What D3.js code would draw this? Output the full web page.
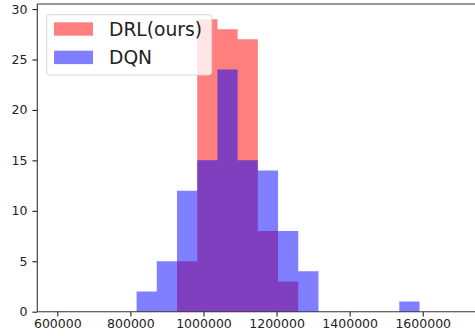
<!DOCTYPE html>
<html>
<head>
<meta charset="utf-8">
<script src="https://cdn.jsdelivr.net/npm/d3@7"></script>
<style>
  html, body { margin: 0; padding: 0; background: #fff; }
  svg { display: block; }
  text { font-family: "DejaVu Sans", sans-serif; fill: #222; }
</style>
</head>
<body>
<svg id="chart" width="475" height="336"></svg>
<script>
// ---- data ----
const binEdges = [817000, 872300, 927600, 982900, 1038200, 1093500, 1148800, 1204100,
                  1259400, 1314700, 1370000, 1425300, 1480600, 1535900, 1591200];
const drlCounts = [0, 0, 5, 29, 28, 27, 8, 3, 0, 0, 0, 0, 0, 0];
const dqnCounts = [2, 5, 12, 15, 24, 15, 14, 8, 4, 0, 0, 0, 0, 1];
const seriesNames = ["DRL(ours)", "DQN"];
const xTicks = [600000, 800000, 1000000, 1200000, 1400000, 1600000];
const yTicks = [0, 5, 10, 15, 20, 25, 30];

// ---- layout ----
const svg = d3.select("#chart");
const pLeft = 37.3, pTop = 4, pBottom = 311.7, pRight = 481.2;

const x = d3.scaleLinear().domain([545300, 1760000]).range([pLeft, pRight]);
const y = d3.scaleLinear().domain([0, 30.5]).range([pBottom, pTop]);

const colors = ["rgb(255,0,0)", "rgb(0,0,255)"];

// each series drawn as a single path of its bin rectangles (no seams between bins)
function drawHist(counts, color) {
  const bins = counts.map((c, i) => ({x0: binEdges[i], x1: binEdges[i + 1], c}))
                     .filter(d => d.c > 0);
  const p = d3.path();
  bins.forEach(d => {
    p.rect(x(d.x0), y(d.c), x(d.x1) - x(d.x0), y(0) - y(d.c));
  });
  svg.append("path").attr("d", p.toString())
    .attr("fill", color).attr("fill-opacity", 0.5);
}
drawHist(drlCounts, colors[0]);
drawHist(dqnCounts, colors[1]);

// ---- axes ----
const xAxis = svg.append("g").attr("transform", `translate(0,${pBottom})`)
  .call(d3.axisBottom(x).tickValues(xTicks).tickFormat(d3.format("d")).tickSize(4.9).tickPadding(3));
const yAxis = svg.append("g").attr("transform", `translate(${pLeft},0)`)
  .call(d3.axisLeft(y).tickValues(yTicks).tickFormat(d3.format("d")).tickSize(4.9).tickPadding(5));
[xAxis, yAxis].forEach(a => {
  a.select(".domain").remove();
  a.selectAll(".tick line").attr("stroke", "#222").attr("stroke-width", 1.1);
  a.selectAll(".tick text").style("font-family", "DejaVu Sans, sans-serif")
    .style("font-size", "12.5px").attr("fill", "#222");
});

// spines
svg.append("line").attr("x1", pLeft).attr("x2", 475).attr("y1", pBottom).attr("y2", pBottom)
  .attr("stroke", "#333").attr("stroke-width", 1.1);
svg.append("line").attr("x1", pLeft).attr("x2", 475).attr("y1", pTop).attr("y2", pTop)
  .attr("stroke", "#333").attr("stroke-width", 1.1);
svg.append("line").attr("x1", pLeft).attr("x2", pLeft).attr("y1", pTop).attr("y2", pBottom)
  .attr("stroke", "#333").attr("stroke-width", 1.1);

// ---- legend ----
const lg = svg.append("g");
lg.append("rect").attr("x", 46.7).attr("y", 14.7).attr("width", 165).attr("height", 60.3)
  .attr("rx", 3).attr("fill", "rgba(255,255,255,0.8)").attr("stroke", "#d6d6d6").attr("stroke-width", 1);
seriesNames.forEach((name, i) => {
  const yy = 22.3 + i * 28.4;
  lg.append("rect").attr("x", 54).attr("y", yy).attr("width", 39).attr("height", 13.4)
    .attr("fill", colors[i]).attr("fill-opacity", 0.5);
  lg.append("text").attr("x", 109).attr("y", yy + 13.7).text(name)
    .style("font-size", "18.7px");
});
</script>
</body>
</html>
